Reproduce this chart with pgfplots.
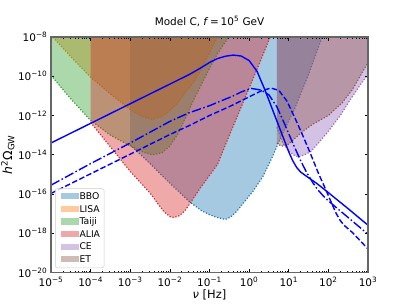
\documentclass[border=0pt]{standalone}
\usepackage{fontspec}
\setmainfont{DejaVu Sans}
\usepackage{pgfplots}
\pgfplotsset{compat=1.18}
\usetikzlibrary{calc}
\definecolor{c0}{HTML}{1F77B4}
\definecolor{c1}{HTML}{FF7F0E}
\definecolor{c2}{HTML}{2CA02C}
\definecolor{c3}{HTML}{D62728}
\definecolor{c4}{HTML}{9467BD}
\definecolor{c5}{HTML}{8C564B}
\definecolor{cb}{HTML}{0000FF}
\pgfplotsset{
  region/.style={fill=#1, fill opacity=0.4, draw=none, forget plot},
  edge/.style={draw=#1, line width=1.2bp, dash pattern=on 1.2bp off 1.8bp, forget plot},
  patch/.style={legend image code/.code={\path (0bp,0bp); \fill[#1, fill opacity=0.4, sharp corners, draw=none] (2.5bp,-2.6bp) rectangle (20bp,3.6bp);}},
}
\begin{document}
\begin{tikzpicture}
\begin{axis}[
  name=ax, at={(0,0)}, anchor=south west,
  scale only axis, width=317bp, height=235.5bp,
  xmode=log, ymode=log,
  xmin=1e-5, xmax=1e3, ymin=1e-20, ymax=1e-8,
  axis on top,
  xtick={1e-5,1e-4,1e-3,1e-2,1e-1,1,10,100,1000},
  xticklabels={10\textsuperscript{−5},10\textsuperscript{−4},10\textsuperscript{−3},10\textsuperscript{−2},10\textsuperscript{−1},10\textsuperscript{0},10\textsuperscript{1},10\textsuperscript{2},10\textsuperscript{3}},
  minor xtick={2e-5,3e-5,4e-5,5e-5,6e-5,7e-5,8e-5,9e-5,
    2e-4,3e-4,4e-4,5e-4,6e-4,7e-4,8e-4,9e-4,
    2e-3,3e-3,4e-3,5e-3,6e-3,7e-3,8e-3,9e-3,
    2e-2,3e-2,4e-2,5e-2,6e-2,7e-2,8e-2,9e-2,
    0.2,0.3,0.4,0.5,0.6,0.7,0.8,0.9,
    2,3,4,5,6,7,8,9,20,30,40,50,60,70,80,90,
    200,300,400,500,600,700,800,900},
  ytick={1e-20,1e-18,1e-16,1e-14,1e-12,1e-10,1e-8},
  yticklabels={10\textsuperscript{−20},10\textsuperscript{−18},10\textsuperscript{−16},10\textsuperscript{−14},10\textsuperscript{−12},10\textsuperscript{−10},10\textsuperscript{−8}},
  yminorticks=false,
  tick align=inside,
  major tick length=3.5bp, minor tick length=2bp,
  tick style={black, line width=0.6bp},
  axis line style={black!60, line width=1.2bp},
  ticklabel style={font=\fontsize{10.5}{12}\selectfont, inner sep=1bp},
  xticklabel style={yshift=-3bp},
  yticklabel style={xshift=-2.5bp},
  xlabel={\textit{ν} [Hz]},
  ylabel={\textit{h}\textsuperscript{2}Ω\textsubscript{GW}},
  xlabel style={font=\fontsize{11.5}{13}\selectfont, yshift=1bp},
  ylabel style={font=\fontsize{12.5}{14}\selectfont, yshift=-1bp},
  title={Model C, \textit{f}\,=\,10\textsuperscript{5} GeV},
  title style={font=\fontsize{10.5}{12}\selectfont, yshift=1bp},
  legend style={at={(0.013,0.019)}, anchor=south west, draw=black!20, rounded corners=2pt,
    fill=white, fill opacity=0.8, text opacity=1, font=\fontsize{9.3}{10}\selectfont,
    inner xsep=3bp, inner ysep=3bp, row sep=2.2bp, nodes={inner sep=1bp},
    /tikz/every even column/.append style={column sep=5bp}},
  legend cell align=left,
]
% ---- BBO
\addplot[region=c0] coordinates {(1e-3,1e-7) (1e-3,3.162e-14) (3.162e-3,3.548e-15) (1e-2,3.548e-16) (3.162e-2,3.981e-17) (6.310e-2,1.413e-17) (0.1,8.913e-18) (0.1585,6.310e-18) (0.2512,5.012e-18) (0.3548,7.079e-18) (0.5012,1.413e-17) (0.7943,4.467e-17) (1.259,1.413e-16) (2.239,7.943e-16) (3.981,8.913e-15) (6.310,7.943e-14) (14.13,2.239e-12) (31.62,1.259e-10) (70.79,1.122e-8) (70.79,1e-7)};
\addplot[edge=c0] coordinates {(1e-3,3.162e-14) (3.162e-3,3.548e-15) (1e-2,3.548e-16) (3.162e-2,3.981e-17) (6.310e-2,1.413e-17) (0.1,8.913e-18) (0.1585,6.310e-18) (0.2512,5.012e-18) (0.3548,7.079e-18) (0.5012,1.413e-17) (0.7943,4.467e-17) (1.259,1.413e-16) (2.239,7.943e-16) (3.981,8.913e-15) (6.310,7.943e-14) (14.13,2.239e-12) (31.62,1.259e-10) (70.79,1.122e-8)};
% ---- LISA
\addplot[region=c1] coordinates {(1e-5,1e-7) (1e-5,1.259e-8) (3.162e-5,1e-9) (1e-4,8.913e-11) (3.162e-4,1.259e-11) (1e-3,1.995e-12) (1.995e-3,8.913e-13) (3.548e-3,6.310e-13) (6.310e-3,8.913e-13) (1e-2,1.778e-12) (1.585e-2,4.467e-12) (2.512e-2,1.585e-11) (3.981e-2,5.012e-11) (5.623e-2,1.585e-10) (8.913e-2,1e-9) (0.1585,1e-8) (0.1995,2.512e-8) (0.1995,1e-7)};
\addplot[edge=c1] coordinates {(1e-5,1.259e-8) (3.162e-5,1e-9) (1e-4,8.913e-11) (3.162e-4,1.259e-11) (1e-3,1.995e-12) (1.995e-3,8.913e-13) (3.548e-3,6.310e-13) (6.310e-3,8.913e-13) (1e-2,1.778e-12) (1.585e-2,4.467e-12) (2.512e-2,1.585e-11) (3.981e-2,5.012e-11) (5.623e-2,1.585e-10) (8.913e-2,1e-9) (0.1585,1e-8) (0.1995,2.512e-8)};
% ---- Taiji
\addplot[region=c2] coordinates {(1e-5,1e-7) (1e-5,1.122e-10) (3.162e-5,7.079e-12) (1e-4,5.623e-13) (3.162e-4,1e-13) (1e-3,2.818e-14) (1.995e-3,1.413e-14) (3.548e-3,1e-14) (6.310e-3,1.259e-14) (1e-2,2.818e-14) (1.585e-2,1.122e-13) (2.512e-2,7.943e-13) (3.981e-2,6.310e-12) (6.310e-2,3.981e-11) (0.1,2.512e-10) (0.1585,1.413e-9) (0.2512,5.623e-9) (0.3548,1.585e-8) (0.3548,1e-7)};
\addplot[edge=c2] coordinates {(1e-5,1.122e-10) (3.162e-5,7.079e-12) (1e-4,5.623e-13) (3.162e-4,1e-13) (1e-3,2.818e-14) (1.995e-3,1.413e-14) (3.548e-3,1e-14) (6.310e-3,1.259e-14) (1e-2,2.818e-14) (1.585e-2,1.122e-13) (2.512e-2,7.943e-13) (3.981e-2,6.310e-12) (6.310e-2,3.981e-11) (0.1,2.512e-10) (0.1585,1.413e-9) (0.2512,5.623e-9) (0.3548,1.585e-8)};
% ---- ALIA
\addplot[region=c3] coordinates {(1e-4,1e-7) (1e-4,4.467e-13) (3.162e-4,2.512e-14) (1e-3,1.413e-15) (3.162e-3,1.122e-16) (5.012e-3,3.162e-17) (7.079e-3,1.259e-17) (1e-2,7.079e-18) (1.259e-2,6.310e-18) (1.778e-2,7.943e-18) (2.512e-2,1.585e-17) (3.548e-2,4.467e-17) (6.310e-2,2.512e-16) (0.1,8.913e-16) (0.1585,3.162e-15) (0.2512,3.162e-14) (0.5012,8.913e-13) (1,2.512e-11) (1.995,7.079e-10) (3.548,1.259e-8) (3.548,1e-7)};
\addplot[edge=c3] coordinates {(1e-4,4.467e-13) (3.162e-4,2.512e-14) (1e-3,1.413e-15) (3.162e-3,1.122e-16) (5.012e-3,3.162e-17) (7.079e-3,1.259e-17) (1e-2,7.079e-18) (1.259e-2,6.310e-18) (1.778e-2,7.943e-18) (2.512e-2,1.585e-17) (3.548e-2,4.467e-17) (6.310e-2,2.512e-16) (0.1,8.913e-16) (0.1585,3.162e-15) (0.2512,3.162e-14) (0.5012,8.913e-13) (1,2.512e-11) (1.995,7.079e-10) (3.548,1.259e-8)};
% ---- CE
\addplot[region=c4] coordinates {(5.012,1e-7) (5.012,2.512e-13) (7.079,3.981e-14) (10,1.585e-14) (14.13,8.913e-15) (17.78,7.943e-15) (25.12,1e-14) (35.48,1.413e-14) (56.23,3.981e-14) (100,1.585e-13) (199.5,1e-12) (354.8,6.310e-12) (631.0,3.548e-11) (1000,1.259e-10) (1000,1e-7)};
\addplot[edge=c4] coordinates {(5.012,2.512e-13) (7.079,3.981e-14) (10,1.585e-14) (14.13,8.913e-15) (17.78,7.943e-15) (25.12,1e-14) (35.48,1.413e-14) (56.23,3.981e-14) (100,1.585e-13) (199.5,1e-12) (354.8,6.310e-12) (631.0,3.548e-11) (1000,1.259e-10)};
% ---- ET
\addplot[region=c5] coordinates {(5.012,1e-7) (5.012,3.981e-14) (6.310,2.818e-14) (7.943,2.818e-14) (10,3.548e-14) (19.95,1.259e-13) (39.81,3.548e-13) (100,1e-12) (223.9,4.467e-12) (398.1,1.995e-11) (631.0,1e-10) (1000,5.012e-10) (1000,1e-7)};
\addplot[edge=c5] coordinates {(5.012,3.981e-14) (6.310,2.818e-14) (7.943,2.818e-14) (10,3.548e-14) (19.95,1.259e-13) (39.81,3.548e-13) (100,1e-12) (223.9,4.467e-12) (398.1,1.995e-11) (631.0,1e-10) (1000,5.012e-10)};
% ---- model curves
\addplot[cb, line width=1.4bp, forget plot] coordinates {(1e-5,3.981e-14) (1e-4,3.981e-13) (1e-3,3.981e-12) (1e-2,3.981e-11) (3.162e-2,1.259e-10) (6.310e-2,2.818e-10) (0.1,5.012e-10) (0.1585,7.943e-10) (0.2512,1.047e-9) (0.3981,1.202e-9) (0.6310,1.072e-9) (1,6.310e-10) (1.585,1.778e-10) (2.512,1.995e-11) (3.981,1.778e-12) (6.310,1.585e-13) (10,1.413e-14) (12.59,5.012e-15) (15.85,2.239e-15) (19.95,1.318e-15) (28.18,7.943e-16) (50.12,3.548e-16) (100,1.175e-16) (316.2,1.778e-17) (1000,2.570e-18)};
\addplot[cb, line width=1.4bp, dash pattern=on 9.6bp off 2.4bp on 1.5bp off 2.4bp, forget plot] coordinates {(1e-5,2.818e-16) (1e-4,3.548e-15) (1e-3,3.981e-14) (3.162e-3,1.413e-13) (1e-2,5.012e-13) (3.162e-2,1.413e-12) (0.1,3.162e-12) (0.1995,5.623e-12) (0.3981,1e-11) (0.6310,1.585e-11) (1.122,2.399e-11) (1.995,1.995e-11) (3.162,1.122e-11) (5.012,2.818e-12) (7.943,3.548e-13) (12.59,3.981e-14) (19.95,5.012e-15) (28.18,1.259e-15) (39.81,3.981e-16) (52.48,1.778e-16) (70.79,8.913e-17) (100,4.467e-17) (316.2,6.310e-18) (1000,8.913e-19)};
\addplot[cb, line width=1.4bp, dash pattern=on 5.5bp off 2.4bp, forget plot] coordinates {(1e-5,1.072e-16) (1e-4,1.072e-15) (1e-3,1.072e-14) (1e-2,1.072e-13) (3.162e-2,3.162e-13) (0.1,1e-12) (0.3162,2.818e-12) (0.6310,5.623e-12) (1.259,1.122e-11) (1.995,1.778e-11) (3.548,2.512e-11) (5.623,1.905e-11) (8.913,5.623e-12) (14.13,7.943e-13) (22.39,1e-13) (35.48,1.122e-14) (56.23,1.122e-15) (89.13,1.413e-16) (125.9,2.818e-17) (158.5,1e-17) (199.5,4.467e-18) (251.2,2.512e-18) (398.1,1.122e-18) (1000,1.585e-19)};
% ---- legend
\addlegendimage{patch=c0}
\addlegendentry{BBO}
\addlegendimage{patch=c1}
\addlegendentry{LISA}
\addlegendimage{patch=c2}
\addlegendentry{Taiji}
\addlegendimage{patch=c3}
\addlegendentry{ALIA}
\addlegendimage{patch=c4}
\addlegendentry{CE}
\addlegendimage{patch=c5}
\addlegendentry{ET}
\end{axis}
\pgfresetboundingbox
\useasboundingbox ($(ax.south west)+(-51bp,-34.5bp)$) rectangle ($(ax.north east)+(41bp,37bp)$);
\end{tikzpicture}
\end{document}
